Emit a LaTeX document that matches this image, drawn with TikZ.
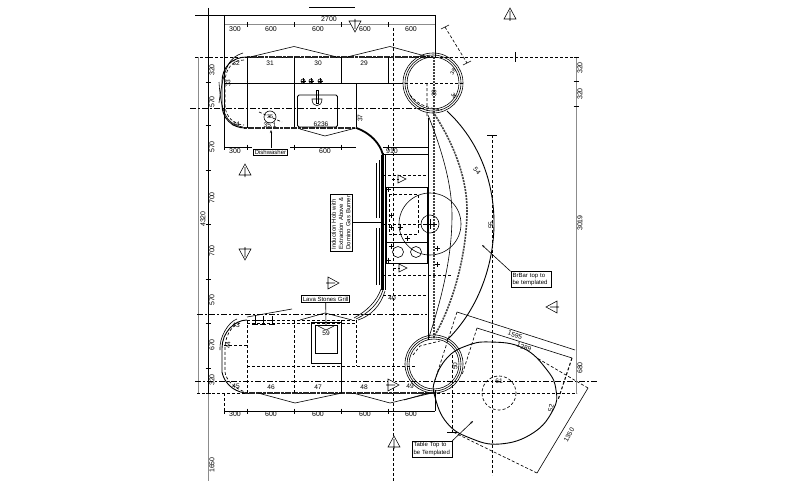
\documentclass[tikz,border=0pt]{standalone}
\usepackage{fontspec}
\setmainfont{Liberation Sans}
\usetikzlibrary{arrows.meta}
\tikzset{
 x=1pt,y=-1pt,
 lbl/.style={font=\fontsize{7}{7}\selectfont,inner sep=0pt,text=black},
 sm/.style={font=\fontsize{6.6}{6.6}\selectfont,inner sep=0pt,text=black},
 tiny/.style={font=\fontsize{5.4}{5.4}\selectfont,inner sep=0pt,text=black},
 thin line/.style={line width=0.6pt,black},
 med/.style={line width=0.9pt,black},
 heavy/.style={line width=1.7pt,black!85,dash pattern=on 3pt off 0.6pt},
 dsh/.style={line width=0.65pt,black,dash pattern=on 3pt off 2pt},
 dshd/.style={line width=0.65pt,black,dash pattern=on 6pt off 2pt on 2pt off 2pt},
 dbl/.style={line width=1.4pt,black!75,dash pattern=on 2pt off 1pt},
 gry/.style={line width=1pt,black!45},
 callout/.style={draw=black,line width=0.8pt,fill=white,inner sep=1.5pt,font=\fontsize{6}{7.2}\selectfont,align=left},
 tri/.style={draw=black,line width=0.55pt,fill=white}
}
\newcommand{\tickh}[2]{\draw[thin line] (#1-2.5,#2)--(#1+2.5,#2);}
\newcommand{\tickv}[2]{\draw[thin line] (#1,#2-2.5)--(#1,#2+2.5);}
\newcommand{\triU}[2]{\draw[tri] (#1-6,#2+5)--(#1,#2-6)--(#1+6,#2+5)--cycle (#1,#2-3)--(#1,#2+7);}
\newcommand{\triD}[2]{\draw[tri] (#1-6,#2-5)--(#1,#2+6)--(#1+6,#2-5)--cycle (#1,#2+3)--(#1,#2-7);}
\newcommand{\triR}[2]{\draw[tri] (#1-5,#2-6)--(#1+6,#2)--(#1-5,#2+6)--cycle (#1-7,#2)--(#1+2,#2);}
\newcommand{\triL}[2]{\draw[tri] (#1+5,#2-6)--(#1-6,#2)--(#1+5,#2+6)--cycle (#1+7,#2)--(#1-2,#2);}
\newcommand{\triS}[2]{\draw[tri] (#1-4,#2-4)--(#1+4,#2)--(#1-4,#2+4)--cycle;\draw[dsh] (#1-10,#2)--(#1-3,#2);}
\newcommand{\crs}[2]{\draw[thin line] (#1-2.5,#2)--(#1+2.5,#2) (#1,#2-2.5)--(#1,#2+2.5);}
\begin{document}
\begin{tikzpicture}
\useasboundingbox[fill=white] (0,0) rectangle (800,495);
% grid lines
\draw[thin line] (195,15)--(435,15);
\draw[thin line] (309,7)--(355,7);
\draw[med] (208,8)--(208,393);
\draw[gry] (208,393)--(208,481);
\draw[gry] (198,57)--(198,393);
\draw[med] (224,15)--(224,148);
\draw[gry] (224,25)--(435,25);
\draw[thin line] (435,15)--(435,57);
\draw[dsh] (195,57)--(577,57);
\draw[dshd] (190,108)--(425,108);
\draw[dshd] (197,314)--(427,314);
\draw[dshd] (195,381)--(598,381);
\draw[dsh] (197,393.5)--(577,393.5);
\draw[dsh] (224,393)--(224,411);
\draw[dsh] (393,28)--(393,482);
\draw[dsh] (492,135)--(492,475);
\draw[thin line] (487,135)--(497,135);
\draw[gry] (576,57)--(576,394);
\foreach \y in {57,81,106} {\tickh{576}{\y}}
\draw[thin line] (515,52)--(515,62);
\draw[dsh] (445,27)--(467,63);
\draw[thin line] (441,29)--(449,25) (463,65)--(471,61);
% top dims
\foreach \x in {224,247,294,341,388} {\tickv{\x}{25}}
\foreach \x in {224,247,294,341,388} {\tickv{\x}{147}}
\draw[thin line] (224,147)--(252,147) (290,147)--(356,147);
\foreach \x in {224,247,294,341,388} {\tickv{\x}{411}}
\draw[med] (224,411)--(435,411);
\draw[thin line] (435,390)--(435,411);
\foreach \y in {57,82,125,170,224,279,323,368,393} {\tickh{208}{\y}}
% top bench
\draw[heavy] (247,57)--(433,57);
\draw[thin line] (250,57)--(294,46.5)--(337,57) (347,57)--(390,46.5)--(425,56);
\draw[med] (247,57)--(247,128) (294,57)--(294,128) (341,57)--(341,83);
\draw[med] (388,57)--(388,83);
\draw[med] (224,83)--(400,83);
\draw[dsh] (400,83)--(463,83);
\draw[med] (356.5,83)--(356.5,128);
\draw[heavy] (244,128)--(356.5,128);
\draw[thin line] (300,129)--(325,136)--(356,128);
\draw[med,rounded corners=1.5pt] (297.5,95) rectangle (337.5,127);
\draw[thin line] (312,99)..controls (312,108) and (322,108)..(322,99)--cycle;
\draw[med] (316,90) rectangle (318,103);
\foreach \x in {303,311,320} {\draw[thin line] (\x,81) circle (2);\draw[thin line] (\x-2.5,81)--(\x+2.5,81) (\x,78)--(\x,83);}
\draw[thin line] (270,117) circle (6);
\draw[dsh] (259,112)--(282,122);
\draw[-{Stealth[length=3pt]},thin line] (271,148)--(271,130);
\node[callout,inner sep=1pt] (dw) at (270.5,152.5) {Dishwasher};
% left curves
\draw[med] (247,57)..controls (232,57) and (222,67)..(222,82)--(222,105)..controls (222,118) and (232,128)..(245,128);
\draw[thin line] (243,53)..controls (230,57) and (224,65)..(219,103);
\draw[thin line] (219,82)..controls (221,115) and (228,125)..(243,127);
\draw[dsh] (244,60)..controls (232,60) and (225,70)..(225,82)--(225,105)..controls (225,116) and (234,125)..(244,125);
% corner
\draw[line width=1.8pt] (356.5,128)..controls (370,133) and (380,143)..(383,155);
\draw[line width=1.4pt] (383,153)--(383,290);
\draw[thin line] (381,155)--(381,290) (385,155)--(385,290);
\draw[thin line] (376,163)--(376,218) (376,228)--(376,285) (379,160)--(379,218) (379,228)--(379,285);
\draw[thin line] (383,290)..controls (379,303) and (369,313)..(356,319);
\draw[thin line] (385,291)..controls (381,305) and (371,316)..(358,320);
\draw[thin line] (381,289)..controls (377,301) and (367,311)..(354,318);
% right run
\draw[thin line] (383,147.3)--(428,147.3) (383,154.3)--(428,154.3);
\draw[med] (428,118)--(428,340);
\draw[dbl] (434,57)--(434,338);
\draw[dsh] (383,175)--(428,175) (383,275)--(452,275) (383,295)--(428,295);
\draw[med] (386,187) rectangle (427,263);
\draw[thin line] (386,242)--(428,242);
\draw[dsh] (389,194) rectangle (418,234);
\draw[dsh] (383,224)--(430,224);
\draw[thin line] (430,224) circle (31) (430,224) circle (9);
\draw[med] (423,224)--(437,224) (430,219)--(430,229);
\draw[thin line] (398,252) circle (5.5) (416,252) circle (5.5);
\triS{402}{179}\triS{403}{268}
\crs{391}{227}\crs{400}{227}\crs{437}{248}\crs{437}{264}\crs{407}{238}
\crs{388}{189}\crs{391}{215}\crs{391}{246}\crs{388}{260}
% circles
\foreach \r in {30,28,26} {\draw[thin line] (433,83) circle (\r);}
\foreach \r in {29,27,25} {\draw[thin line] (434,364) circle (\r);}
\draw[dsh] (410,95)..controls (418,105) and (428,108)..(442,110);
\draw[dsh] (427,83)--(427,118) (413,355)--(420,346)--(440,341);
% bar arcs
\draw[med] (447,111)..controls (478,140) and (494,180)..(494,223)..controls (494,265) and (478,310)..(447,340);
\draw[dbl,line width=1.6pt] (433,112)..controls (455,145) and (467,180)..(467,210)..controls (467,250) and (455,300)..(435,335);
\draw[thin line] (428,115)..controls (442,150) and (452,185)..(452,215)..controls (452,255) and (443,295)..(428,340);
% lower bench
\draw[dsh,line width=1pt] (247,320)--(356,320);
\draw[dsh] (247,323)--(356,323);
\draw[heavy] (245,393)--(435,393);
\draw[thin line] (258,393)--(295,403)--(342,393) (353,393)--(390,403)--(432,393);
\draw[dsh] (247,320)--(247,393) (294,320)--(294,393) (356,320)--(356,366);
\draw[med] (341,320)--(341,393);
\draw[dsh] (247,366)--(415,366);
\draw[med] (311,322) rectangle (341,363);
\draw[thin line] (315,325) rectangle (337,353);
\draw[thin line] (247,317)--(292,309);
\draw[thin line] (300,320)--(325,313)--(352,320);
\draw[med] (247,320)..controls (234,320) and (222,333)..(222,348)--(222,372)..controls (224,382) and (232,391)..(245,393);
\draw[dsh] (240,323)..controls (230,326) and (225,338)..(225,348)--(225,372)..controls (226,380) and (234,388)..(245,392);
\draw[thin line] (237,319)..controls (228,322) and (219,338)..(220,350);
\draw[dsh] (224,345)--(247,345);
\foreach \x in {255,263,272} {\draw[thin line] (\x,316)--(\x,325) (\x-3,320)--(\x+3,320) (\x-3,324)--(\x+3,324);}
\draw[thin line] (318,326)--(326,330)--(334,326);
\draw[thin line] (428,393)--(404,400);
% table
\draw[med] plot[smooth cycle,tension=0.75] coordinates {(435,380)(447,358)(466,346)(490,342)(523,348)(547,370)(556,390)(553,410)(533,433)(500,444)(470,438)(447,423)(435,397)};
\draw[dsh] (499,393) circle (17);
\draw[dsh] (452,355)--(452,432);
\draw[thin line] (447,432)--(457,432);
% table dims
\draw[thin line] (457,312)--(575,350);
\draw[thin line] (477,328)--(572,358);
\draw[dsh] (457,312)--(435,380) (477,328)--(462,375);
\draw[dsh,line width=1pt] (572,358)--(558,400);
\draw[thin line] (588,388)--(537,473);
\draw[dsh] (537,473)--(453,432) (588,388)--(537,358);
% section markers
\triU{510}{14}\triD{355}{26}
\triU{245}{170}\triD{245}{254}\triR{333}{283}\triL{552}{307}\triR{393}{385}\triU{394}{442}
% callouts
\node[callout,text width=37pt] (brbar) at (531,279.5) {BrBar top to be templated};
\node[callout,text width=37pt] (table) at (432,449) {Table Top to be Templated};
\node[callout,inner sep=1pt] (lava) at (325.7,299) {Lava Stones Grill};
\draw[thin line] (lava.south)--(326,325);
\node[callout,rotate=90,text width=54pt] (hob) at (341,222.5) {Induction Hob with Extraction Above \& Domino Gas Burner};
\draw[med] (hob.south)--(383,222.5);
% leaders
\coordinate (brtip) at (482,245);
\coordinate (tbtip) at (473,421);
\draw[-{Stealth[length=3pt]},thin line] (brbar.north west)--(brtip);
\draw[-{Stealth[length=3pt]},thin line] (table.north east)--(tbtip);
% dim labels
\foreach \x/\t in {235/300,271/600,318/600,365/600,411/600} {\node[lbl] at (\x,29.5) {\t};}
\foreach \x/\t in {235/300,271/600,318/600,365/600,411/600} {\node[lbl] at (\x,414.5) {\t};}
\node[lbl] at (235,151.5) {300}; \node[lbl] at (325,151.5) {600}; \node[lbl] at (392,151) {910};
\node[lbl] at (329,19) {2700};
\foreach \y/\t in {70/320,102/570,147/570,198/700,251/700,300/570,345/670,380/320,465/1650} {\node[lbl,rotate=90] at (212,\y) {\t};}
\node[lbl,rotate=90] at (203,219) {4320};
\foreach \y/\t in {68/320,94/320,223/3019,368/680} {\node[lbl,rotate=90] at (580,\y) {\t};}
% item labels
\foreach \x/\y/\t in {270/63/31,318/63/30,364/63/29,236/63/32,236/124/34,271/387/46,318/387/47,364/387/48,410/386/49,236/386/45,236/325/43,326/333/59,392/298/40,499/381/61} {\node[sm] at (\x,\y) {\t};}
\node[sm] at (270,125.5) {35.1};
\node[sm] at (321,124) {6236};
\node[tiny] at (270,117) {35};
\node[sm,rotate=90] at (228,83) {33};
\node[sm,rotate=90] at (360,118) {37};
\node[sm,rotate=90] at (228,345) {44};
\node[sm,rotate=90] at (434,93) {39};
\node[tiny,rotate=60] at (453,72) {38};
\node[tiny,rotate=-60] at (454,96) {36};
\node[sm,rotate=90] at (491,225) {55};
\node[sm,rotate=-50] at (477,171) {54};
\node[sm,rotate=90] at (455,366) {50};
\node[sm,rotate=75] at (551,408) {52};
\node[sm,rotate=-18] at (515,335) {1595};
\node[sm,rotate=-18] at (524,347) {1289};
\node[sm,rotate=60] at (569,435) {1350};
\end{tikzpicture}
\end{document}
